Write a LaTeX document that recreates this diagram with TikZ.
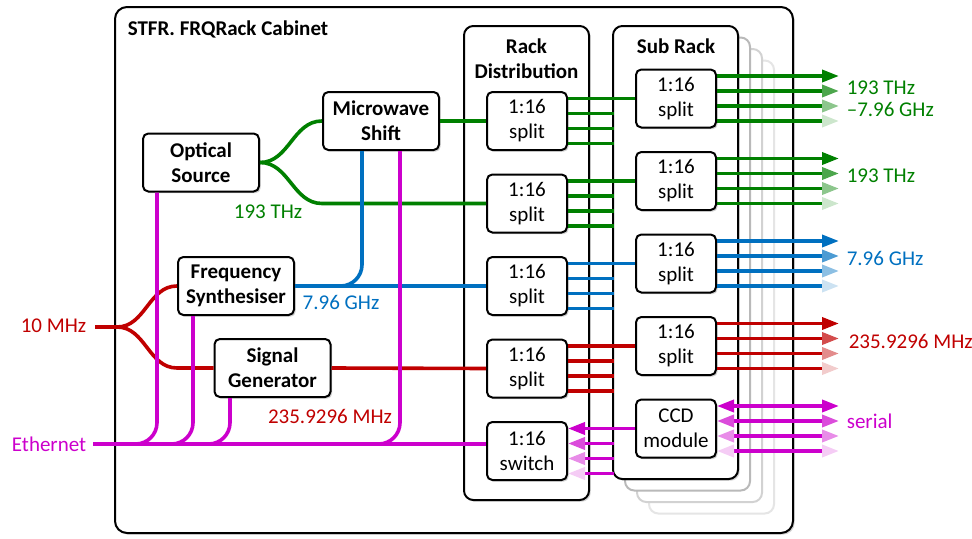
\documentclass[tikz,border=0pt]{standalone}
\usepackage{fontspec}
\setmainfont{Carlito}
\usetikzlibrary{arrows.meta,calc,shadows}
\definecolor{optgreen}{RGB}{0,128,0}
\definecolor{mwblue}{RGB}{0,112,192}
\definecolor{rfred}{RGB}{192,0,0}
\definecolor{ethmag}{RGB}{204,0,204}
\newcommand{\txtsize}{\fontsize{15.75}{18.75}\selectfont}
\tikzset{Fade/.tip={Triangle[length=12.75pt, width=9pt]}}
\begin{document}
\begin{tikzpicture}[x=0.75pt, y=-0.75pt, line width=2.7pt,
  boxshadow/.style={drop shadow={shadow xshift=1.3pt, shadow yshift=-1.3pt, opacity=0.35}},
  unit/.style={draw=black, line width=1.5pt, fill=white, rounded corners=4pt, boxshadow,
    minimum width=87pt, minimum height=43.5pt, inner sep=1pt, align=center,
    font=\bfseries\txtsize},
  splitbox/.style={unit, minimum width=60pt, font=\txtsize},
  panel/.style={draw=black, line width=1.5pt, fill=white, rounded corners=7pt, boxshadow},
  ghost/.style={draw=#1, line width=1.5pt, fill=white, rounded corners=7pt},
  lbl/.style={font=\txtsize, inner sep=0pt},
  gr/.style={draw=optgreen}, bl/.style={draw=mwblue},
  rd/.style={draw=rfred}, mg/.style={draw=ethmag}]
  \useasboundingbox (0,0) rectangle (972,539);
  % cabinet and racks
  \draw[panel, rounded corners=9pt] (115,7) rectangle (793,533);
  \node[anchor=west, font=\bfseries\txtsize, inner sep=0pt] (title) at (126,29) {STFR. FRQRack Cabinet};
  \draw[panel] (464,26) rectangle (589,500);
  \node[font=\bfseries\txtsize, align=center, inner sep=0pt] (rdtitle) at (526.5,58.5) {Rack\\Distribution};
  \draw[ghost=gray!20] (649,60.5) rectangle (774,513.5);
  \draw[ghost=gray!35] (637,49) rectangle (762,502);
  \draw[ghost=gray!55] (625,37.5) rectangle (750,490.5);
  \draw[panel] (613,26) rectangle (738,479);
  \node[font=\bfseries\txtsize, inner sep=0pt] (srtitle) at (676,46) {Sub Rack};
  % sources
  \node[unit] (os) at (201,162.5) {Optical\\Source};
  \node[unit] (ms) at (381,121) {Microwave\\Shift};
  \node[unit] (fs) at (236,286) {Frequency\\Synthesiser};
  \node[unit] (sg) at (272.5,368) {Signal\\Generator};
  % rack distribution
  \node[splitbox] (rd1) at (527,121) {1:16\\split};
  \node[splitbox] (rd2) at (527,203.5) {1:16\\split};
  \node[splitbox] (rd3) at (527,286) {1:16\\split};
  \node[splitbox] (rd4) at (527,368.5) {1:16\\split};
  \node[splitbox] (sw) at (527,451) {1:16\\switch};
  % sub rack
  \node[splitbox] (ss1) at (676,98.5) {1:16\\split};
  \node[splitbox] (ss2) at (676,181) {1:16\\split};
  \node[splitbox] (ss3) at (676,263.5) {1:16\\split};
  \node[splitbox] (ss4) at (676,346) {1:16\\split};
  \node[splitbox] (ccd) at (676,428.5) {CCD\\module};
  \coordinate (ten) at (95,327);
  \coordinate (tj) at (117,327);
  \coordinate (eth) at (93,444);
  % optical
  \draw[gr] (os.east) to[out=0, in=180] (ms.west);
  \draw[gr] (os.east) to[out=0, in=180] (rd2.west -| ms.west) -- (rd2.west);
  \draw[gr] (ms.east) -- (rd1.west);
  % microwave
  \draw[bl, rounded corners=16pt] ($(ms.south)+(-19,0)$) |- (fs.east);
  \draw[bl] (fs.east) -- (rd3.west);
  % reference
  \draw[rd] (ten) -- (tj) to[out=0, in=180] (fs.west);
  \draw[rd] (tj) to[out=0, in=180] (sg.west -| fs.west) -- (sg.west);
  \draw[rd] (sg.east) -- (rd4.west);
  % ethernet
  \draw[mg] (eth) -- (eth -| sw.west);
  \draw[mg, rounded corners=16pt] ($(os.south)+(-44,0)$) |- (eth);
  \draw[mg, rounded corners=16pt] ($(fs.south)+(-43,0)$) |- (eth);
  \draw[mg, rounded corners=16pt] ($(sg.south)+(-42.5,0)$) |- (eth);
  \draw[mg, rounded corners=16pt] ($(ms.south)+(19,0)$) |- (eth);
  % distribution to sub rack and outputs
  \foreach \n/\col in {1/optgreen,2/optgreen,3/mwblue,4/rfred}{
    \draw[draw=\col] ($(rd\n.east)+(0,-22.5)$) -- (ss\n.west);
    \foreach \k in {1,2,3}
      \draw[draw=\col] ($(rd\n.east)+(0,-22.5+15*\k)$) -- ++(46,0);
    \foreach \k/\fade in {0/100,1/70,2/45,3/20}
      \draw[draw=\col, -{Fade[color=\col!\fade]}] ($(ss\n.east)+(0,-22.5+15*\k)$) -- ++(122,0);
  }
  % serial and switch
  \draw[mg, -{Fade[color=ethmag]}] (ccd.west) -- ($(sw.east)+(0,-22.5)$);
  \foreach \k/\fade in {1/70,2/45,3/20}
    \draw[mg, -{Fade[color=ethmag!\fade]}] ($(sw.east)+(46,-22.5+15*\k)$) -- ++(-46,0);
  \foreach \k/\fade in {0/100,1/70,2/45,3/20}
    \draw[mg, {Fade[color=ethmag!\fade]}-{Fade[color=ethmag!\fade]}] ($(ccd.east)+(0,-22.5+15*\k)$) -- ++(122,0);
  % labels
  \node[lbl, text=optgreen] (lgr) at (268,212) {193 THz};
  \node[lbl, text=mwblue] (lbl) at (341,302) {7.96 GHz};
  \node[lbl, text=rfred] (lrd) at (330,416) {235.9296 MHz};
  \node[lbl, text=rfred, anchor=east] (lten) at (88,326) {10 MHz};
  \node[lbl, text=ethmag, anchor=east] (leth) at (88,444) {Ethernet};
  \node[lbl, text=optgreen, anchor=west] (o1) at (845,88) {193 THz};
  \node[lbl, text=optgreen, anchor=west] (o1b) at (845,109) {–7.96 GHz};
  \node[lbl, text=optgreen, anchor=west] (o2) at (845,176) {193 THz};
  \node[lbl, text=mwblue, anchor=west] (o3) at (845,258) {7.96 GHz};
  \node[lbl, text=rfred, anchor=west] (o4) at (847,341) {235.9296 MHz};
  \node[lbl, text=ethmag, anchor=west] (o5) at (845,421) {serial};
\end{tikzpicture}
\end{document}
